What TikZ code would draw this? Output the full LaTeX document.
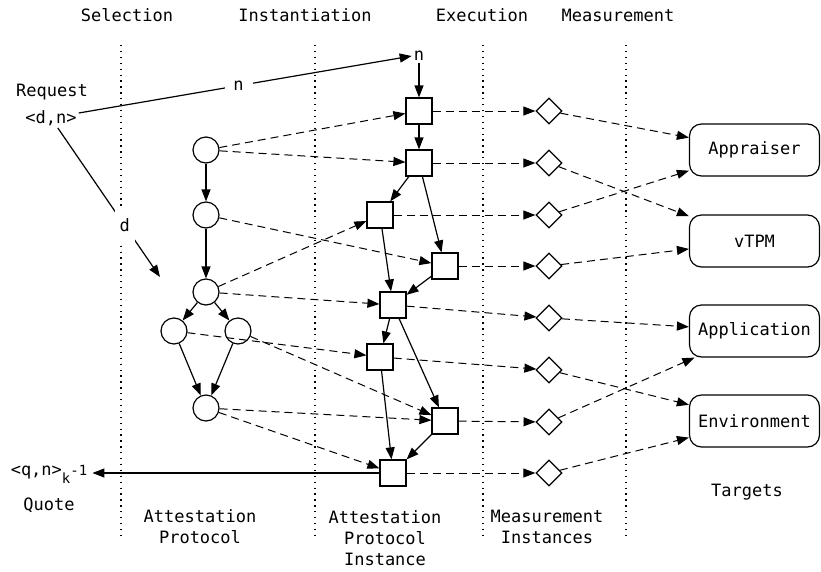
\documentclass[tikz,border=0pt]{standalone}
\usepackage{fontspec}
\setmainfont{DejaVu Sans Mono}
\usetikzlibrary{arrows.meta,shapes.geometric}
\begin{document}
\begin{tikzpicture}[x=1pt,y=-1pt,
  every node/.style={font=\fontsize{17}{21}\selectfont},
  lbl/.style={align=center, inner sep=2pt},
  state/.style={circle, draw, line width=1.2pt, minimum size=26pt, inner sep=0pt},
  act/.style={rectangle, draw, line width=1.2pt, minimum size=26pt, inner sep=0pt},
  meas/.style={diamond, draw, line width=1.2pt, minimum width=26pt, minimum height=26pt, inner sep=0pt},
  target/.style={rectangle, rounded corners=12pt, draw, line width=1.2pt, minimum width=130pt, minimum height=52pt},
  colsep/.style={line width=1.3pt, dash pattern=on 1.3pt off 4.6pt},
  flow/.style={-{Triangle[length=12pt,width=9pt]}, line width=1.2pt},
  dflow/.style={flow, line width=1pt, dash pattern=on 8pt off 5pt},
  gaplabel/.style={fill=white, inner sep=0pt}
]
\useasboundingbox (0,0) rectangle (821,571);

% column separators
\foreach \x in {121,315,483,626} \draw[colsep] (\x,45) -- (\x,537);

% column headings
\node[lbl] (hsel) at (127,15) {Selection};
\node[lbl] (hins) at (305,15) {Instantiation};
\node[lbl] (hexe) at (482,15) {Execution};
\node[lbl] (hmea) at (618,15) {Measurement};

% column footers
\node[lbl] (fprot) at (200,527) {Attestation\\Protocol};
\node[lbl] (finst) at (385,538) {Attestation\\Protocol\\Instance};
\node[lbl] (fmeas) at (547,527) {Measurement\\Instances};
\node[lbl] (ftgt)  at (747,492) {Targets};

% request and quote
\node[lbl] (req) at (52,92) {Request};
\node[lbl] (dn)  at (51,118) {<d,n>};
\node[lbl, inner xsep=5pt] (sig) at (49,474) {<q,n>\raisebox{-8pt}{\fontsize{14}{14}\selectfont k}\raisebox{0pt}{\fontsize{14}{14}\selectfont -1}};
\node[lbl] (quote) at (49,505) {Quote};
\node[lbl] (ntop) at (419,56) {n};
\coordinate (dend) at (160,277);

% attestation protocol
\node[state] (c1) at (206,150) {};
\node[state] (c2) at (206,215) {};
\node[state] (c3) at (206,292) {};
\node[state] (c4) at (174,331) {};
\node[state] (c5) at (238,331) {};
\node[state] (c6) at (206,408) {};

% protocol instance
\node[act] (s1) at (419,111) {};
\node[act] (s2) at (419,163) {};
\node[act] (s3) at (380,215) {};
\node[act] (s4) at (445,266) {};
\node[act] (s5) at (393,305) {};
\node[act] (s6) at (380,357) {};
\node[act] (s7) at (445,421) {};
\node[act] (s8) at (393,473) {};

% measurement instances
\node[meas] (d1) at (549,111) {};
\node[meas] (d2) at (549,163) {};
\node[meas] (d3) at (549,215) {};
\node[meas] (d4) at (549,266) {};
\node[meas] (d5) at (549,318) {};
\node[meas] (d6) at (549,370) {};
\node[meas] (d7) at (549,422) {};
\node[meas] (d8) at (549,473) {};

% targets
\node[target] (tapp) at (754.5,150) {Appraiser};
\node[target] (tvtpm) at (754.5,241) {vTPM};
\node[target] (tappl) at (754.5,331) {Application};
\node[target] (tenv) at (754.5,421) {Environment};

% request flow
\draw[flow] ([yshift=5pt]dn.east) -- node[gaplabel, pos=0.48, minimum width=28pt, minimum height=18pt] (nlab) {n} (ntop.west);
\draw[flow] (dn) -- node[gaplabel, pos=0.654, minimum width=20pt, minimum height=38pt] (dlab) {d} (dend);
\draw[flow] (ntop) -- (s1);
\draw[flow] (s8.west) -- (s8.west -| sig.east);

% protocol ordering
\draw[flow] (c1) -- (c2);
\draw[flow] (c2) -- (c3);
\draw[flow] (c3) -- (c4);
\draw[flow] (c3) -- (c5);
\draw[flow] (c4) -- (c6);
\draw[flow] (c5) -- (c6);

% instance ordering
\draw[flow] (s1) -- (s2);
\draw[flow] (s2) -- (s3);
\draw[flow] (s2) -- (s4);
\draw[flow] (s3) -- (s5);
\draw[flow] (s4) -- (s5);
\draw[flow] (s5) -- (s6);
\draw[flow] (s5) -- (s7);
\draw[flow] (s6) -- (s8);
\draw[flow] (s7) -- (s8);

% instantiation
\draw[dflow] (c1) -- (s1);
\draw[dflow] (c1) -- (s2);
\draw[dflow] (c2) -- (s4);
\draw[dflow] (c3) -- (s3);
\draw[dflow] (c3) -- (s5);
\draw[dflow] (c4) -- (s6);
\draw[dflow] (c5) -- (s7);
\draw[dflow] (c6) -- (s7);
\draw[dflow] (c6) -- (s8);

% execution
\foreach \i in {1,...,8} \draw[dflow] (s\i) -- (d\i);

% measurement
\draw[dflow] (d1) -- (tapp);
\draw[dflow] (d2) -- (tvtpm);
\draw[dflow] (d3) -- (tapp);
\draw[dflow] (d4) -- (tvtpm);
\draw[dflow] (d5) -- (tappl);
\draw[dflow] (d6) -- (tenv);
\draw[dflow] (d7) -- (tappl);
\draw[dflow] (d8) -- (tenv);
\end{tikzpicture}
\end{document}
